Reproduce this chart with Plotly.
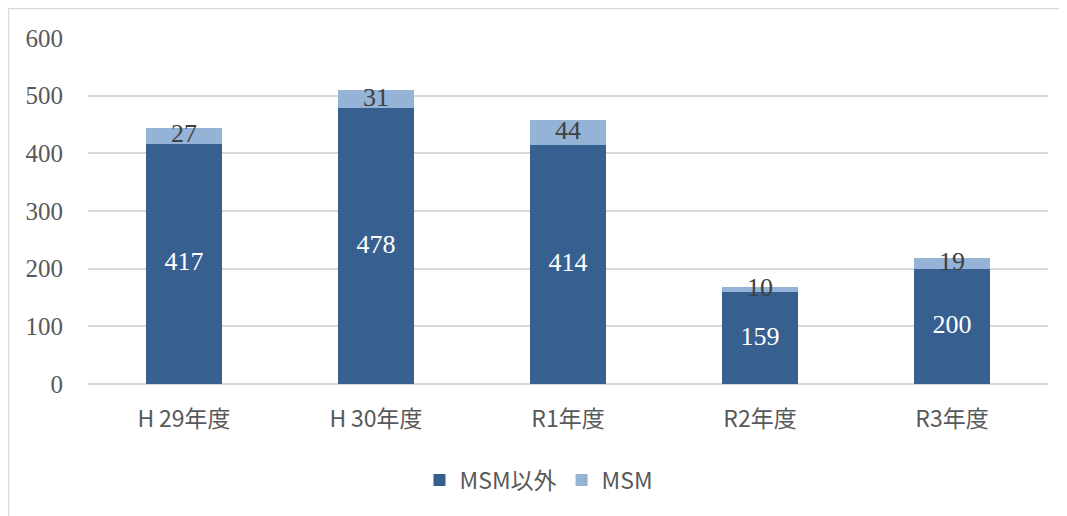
import plotly.graph_objects as go

categories = ["H\u200929年度", "H\u200930年度", "R1年度", "R2年度", "R3年度"]
non_msm = [417, 478, 414, 159, 200]
msm = [27, 31, 44, 10, 19]

# page body has an 8px margin; figure coords = screen coords - 8
OFF = 8
W, H = 1067 - OFF, 516 - OFF
L, T = 88 - OFF, 38 - OFF
pw, ph = 960, 346
R = W - L - pw
B = H - T - ph

dark = "#375F8F"
light = "#95B3D7"
serif = "Liberation Serif, DejaVu Serif, serif"
sans = "Noto Sans CJK JP, Noto Sans, sans-serif"

fig = go.Figure()
fig.add_trace(go.Bar(x=categories, y=non_msm, name="MSM以外", marker_color=dark,
                     marker_line_width=0, width=0.4))
fig.add_trace(go.Bar(x=categories, y=msm, name="MSM", marker_color=light,
                     marker_line_width=0, width=0.4))
# data labels
fig.add_trace(go.Scatter(x=categories, y=[v / 2 for v in non_msm], mode="text",
                         text=[str(v) for v in non_msm], showlegend=False,
                         textfont=dict(family=serif, size=26, color="white"),
                         textposition="middle center",
                         hoverinfo="skip", cliponaxis=False))
fig.add_trace(go.Scatter(x=categories, y=[a + b / 2 for a, b in zip(non_msm, msm)], mode="text",
                         text=[str(v) for v in msm], showlegend=False,
                         textfont=dict(family=serif, size=26, color="#404040"),
                         textposition="middle center",
                         hoverinfo="skip", cliponaxis=False))


def px_x(p):
    return (p - OFF - L) / pw


def px_y(p):
    return (T + ph - (p - OFF)) / ph


fig.update_layout(
    width=W, height=H,
    margin=dict(l=L, r=R, t=T, b=B),
    barmode="stack",
    plot_bgcolor="white", paper_bgcolor="white",
    legend=dict(orientation="h", x=px_x(539), xanchor="center", y=px_y(480), yanchor="middle",
                font=dict(family=sans, size=23, color="#595959"), traceorder="normal"),
    xaxis=dict(tickfont=dict(family=sans, size=23, color="#595959"), showgrid=False,
               showline=False, ticks="", ticklabelstandoff=19),
    yaxis=dict(range=[0, 600], dtick=100, tickfont=dict(family=serif, size=25, color="#595959"),
               gridcolor="#D9D9D9", gridwidth=1.5, zeroline=True, zerolinecolor="#D9D9D9",
               zerolinewidth=1.5, ticks="", ticklabelstandoff=24),
    shapes=[
        dict(type="line", xref="paper", yref="paper", x0=px_x(8), x1=px_x(1067),
             y0=px_y(8.5), y1=px_y(8.5), line=dict(color="#D9D9D9", width=1.5)),
        dict(type="line", xref="paper", yref="paper", x0=px_x(8.5), x1=px_x(8.5),
             y0=px_y(8), y1=px_y(516), line=dict(color="#D9D9D9", width=1.5)),
    ],
)

fig.write_html("out.html")
